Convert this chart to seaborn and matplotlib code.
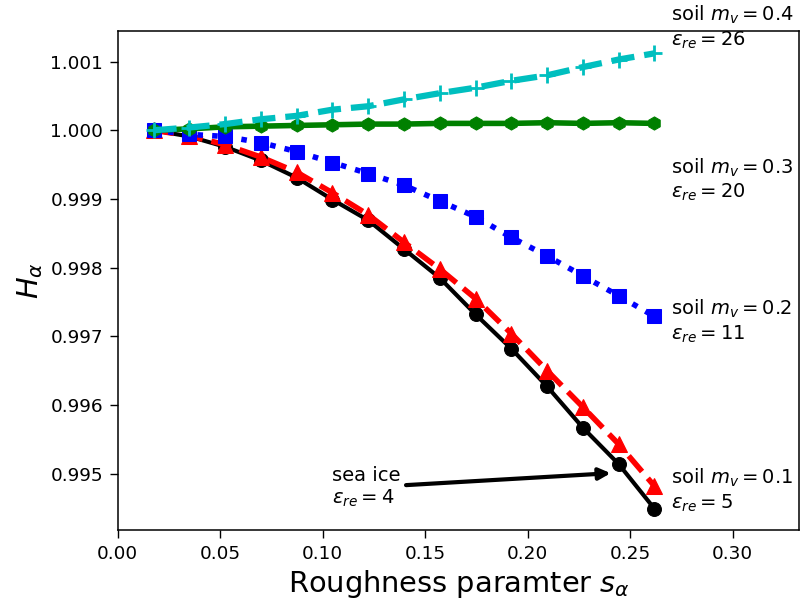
import numpy as np
import seaborn as sns
import matplotlib.pyplot as plt

# roughness s_alpha = 1..15 degrees in radians
s_alpha = [0.01745, 0.03491, 0.05236, 0.06981, 0.08727, 0.10472, 0.12217, 0.13963,
           0.15708, 0.17453, 0.19199, 0.20944, 0.22689, 0.24435, 0.26180]

h_sea_ice = [1.00000, 0.99991, 0.99976, 0.99956, 0.99931, 0.99899, 0.99869, 0.99827,
             0.99785, 0.99732, 0.99682, 0.99627, 0.99567, 0.99514, 0.99449]
h_mv01 = [1.00000, 0.99992, 0.99979, 0.99961, 0.99939, 0.99909, 0.99877, 0.99837,
          0.99798, 0.99755, 0.99704, 0.99650, 0.99597, 0.99543, 0.99482]
h_mv02 = [1.00000, 0.99994, 0.99991, 0.99982, 0.99969, 0.99953, 0.99937, 0.99920,
          0.99897, 0.99874, 0.99844, 0.99817, 0.99788, 0.99759, 0.99729]
h_mv03 = [1.00000, 1.00002, 1.00005, 1.00006, 1.00007, 1.00008, 1.00009, 1.00009,
          1.00010, 1.00010, 1.00010, 1.00011, 1.00010, 1.00011, 1.00010]
h_mv04 = [1.00000, 1.00004, 1.00009, 1.00016, 1.00021, 1.00030, 1.00035, 1.00045,
          1.00054, 1.00062, 1.00072, 1.00080, 1.00092, 1.00103, 1.00112]

soil_labels = ['soil $m_v=0.4$\n$\\varepsilon_{re}=26$',
               'soil $m_v=0.3$\n$\\varepsilon_{re}=20$',
               'soil $m_v=0.2$\n$\\varepsilon_{re}=11$',
               'soil $m_v=0.1$\n$\\varepsilon_{re}=5$']
label_y = [1.00150, 0.99928, 0.99722, 0.99476]

fig = plt.figure(figsize=(8.01, 6.03), dpi=100)
ax = fig.add_axes([0.147, 0.121, 0.851, 0.827])

sns.lineplot(x=s_alpha, y=h_sea_ice, color='k', linestyle='-', lw=3,
             marker='o', markersize=10, markeredgecolor='k', ax=ax)
sns.lineplot(x=s_alpha, y=h_mv01, color='r', linestyle='--', lw=4,
             marker='^', markersize=11, markeredgecolor='r', ax=ax)
sns.lineplot(x=s_alpha, y=h_mv02, color='b', linestyle=':', lw=4,
             marker='s', markersize=10, markeredgecolor='b', ax=ax)
sns.lineplot(x=s_alpha, y=h_mv03, color='g', linestyle='-', lw=4,
             marker='h', markersize=9.5, markeredgecolor='g', ax=ax)
sns.lineplot(x=s_alpha, y=h_mv04, color='c', linestyle='--', lw=4.5,
             marker='+', markersize=12, markeredgewidth=2, markeredgecolor='c', ax=ax)

for txt, yy in zip(soil_labels, label_y):
    ax.text(0.2700, yy, txt, fontsize=14, ha='left', va='center', clip_on=False)

# arrow points just left of the sea-ice marker at s = 14 deg
ax.annotate('sea ice\n$\\varepsilon_{re}=4$', xy=(0.2418, 0.99501),
            xytext=(0.1045, 0.99480), fontsize=14, ha='left', va='center',
            arrowprops=dict(arrowstyle='-|>', color='k', lw=3, mutation_scale=17))

ax.set_xlim(0, 0.3325)
ax.set_ylim(0.99418, 1.00144)
ax.set_xticks([0.0, 0.05, 0.10, 0.15, 0.20, 0.25, 0.30])
ax.set_yticks([0.995, 0.996, 0.997, 0.998, 0.999, 1.000, 1.001])
ax.tick_params(labelsize=13.3, length=5.5, width=1, pad=5)
for sp in ax.spines.values():
    sp.set_linewidth(1.1)
ax.set_xlabel(r'Roughness paramter $s_\alpha$', fontsize=20.8, labelpad=4)
ax.set_ylabel(r'$H_\alpha$', fontsize=20.8, labelpad=4)

fig.savefig('out.png', dpi=100)
